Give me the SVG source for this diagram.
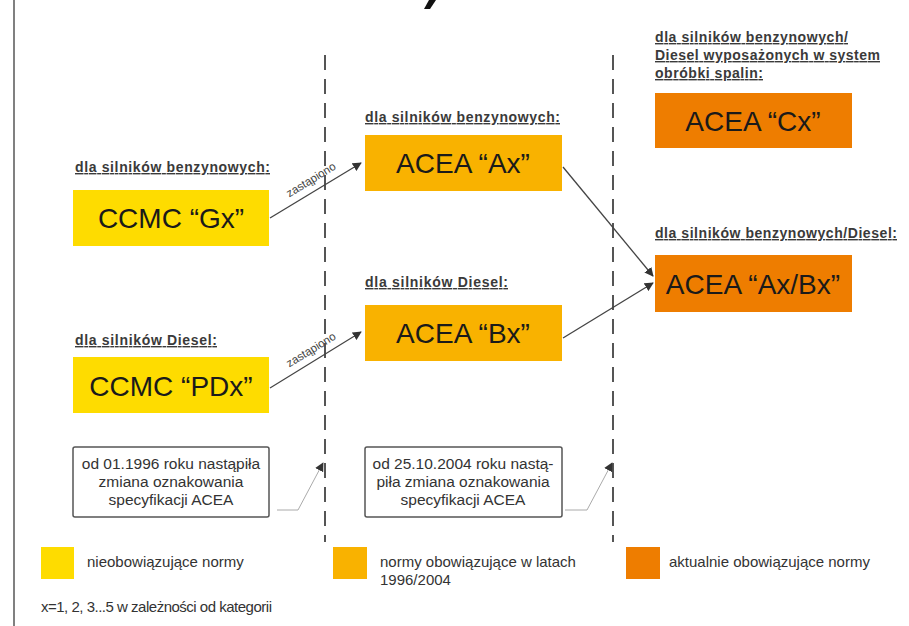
<svg xmlns="http://www.w3.org/2000/svg" width="909" height="626" viewBox="0 0 909 626">
<defs>
<style>
.lbl{font-family:"Liberation Sans",Arial,sans-serif;font-size:14px;font-weight:bold;fill:#3a3a3a;text-decoration:underline;}
.big{font-family:"Liberation Sans",Arial,sans-serif;font-size:28px;fill:#1a1a1a;text-anchor:middle;}
.note{font-family:"Liberation Sans",Arial,sans-serif;font-size:15.5px;fill:#333;text-anchor:middle;}
.leg{font-family:"Liberation Sans",Arial,sans-serif;font-size:15px;fill:#333;}
.zas{font-family:"Liberation Sans",Arial,sans-serif;font-size:11.5px;fill:#444;text-anchor:middle;}
.y1{fill:#FEDC00;}
.y2{fill:#F9B200;}
.o1{fill:#EE7D00;}
.dash{stroke:#555;stroke-width:2;stroke-dasharray:15 9;fill:none;}
.conn{stroke:#444;stroke-width:1.3;fill:none;}
.call{stroke:#aaa;stroke-width:1;fill:none;}
.cbox{fill:#fff;stroke:#555;stroke-width:1.5;}
</style>
<marker id="ah" viewBox="0 0 10 10" refX="9" refY="5" markerWidth="9" markerHeight="9" markerUnits="userSpaceOnUse" orient="auto">
<path d="M0,0 L10,5 L0,10 z" fill="#333"/>
</marker>
</defs>
<rect width="909" height="626" fill="#fff"/>
<line x1="14" y1="0" x2="14" y2="626" stroke="#808080" stroke-width="2"/>
<path d="M424,9 L430,9 L436,0 L429,0 z" fill="#111"/>
<line class="dash" x1="325" y1="55" x2="325" y2="542"/>
<line class="dash" x1="613" y1="55" x2="613" y2="542"/>

<g id="connectors">
<line class="conn" x1="270" y1="218" x2="361" y2="163" marker-end="url(#ah)"/>
<text class="zas" transform="translate(313,183) rotate(-31.5)">zastąpiono</text>
<line class="conn" x1="270" y1="388" x2="361" y2="332" marker-end="url(#ah)"/>
<text class="zas" transform="translate(313,353) rotate(-31.5)">zastąpiono</text>
<line class="conn" x1="563" y1="167" x2="653" y2="276" marker-end="url(#ah)"/>
<line class="conn" x1="563" y1="338" x2="653" y2="283" marker-end="url(#ah)"/>
<polyline class="call" points="277,510 298,510 323,463" marker-end="url(#ah)"/>
<polyline class="call" points="565,510 587,510 612,463" marker-end="url(#ah)"/>
</g>

<g id="ccmc-gx">
<text class="lbl" x="75" y="172" textLength="195">dla silników benzynowych:</text>
<rect class="y1" x="73" y="190" width="196" height="56"/>
<text class="big" x="171" y="228">CCMC “Gx”</text>
</g>
<g id="ccmc-pdx">
<text class="lbl" x="75" y="345" textLength="142">dla silników Diesel:</text>
<rect class="y1" x="73" y="357" width="196" height="56"/>
<text class="big" x="171" y="396">CCMC “PDx”</text>
</g>
<g id="acea-ax">
<text class="lbl" x="365" y="122" textLength="195">dla silników benzynowych:</text>
<rect class="y2" x="365" y="135" width="197" height="56"/>
<text class="big" x="463" y="173">ACEA “Ax”</text>
</g>
<g id="acea-bx">
<text class="lbl" x="365" y="287" textLength="143">dla silników Diesel:</text>
<rect class="y2" x="365" y="305" width="197" height="56"/>
<text class="big" x="463" y="343">ACEA “Bx”</text>
</g>
<g id="acea-cx">
<text class="lbl" x="655" y="42" textLength="193">dla silników benzynowych/</text>
<text class="lbl" x="655" y="60" textLength="225">Diesel wyposażonych w system </text>
<text class="lbl" x="655" y="78" textLength="108">obróbki spalin:</text>
<rect class="o1" x="655" y="93" width="197" height="55"/>
<text class="big" x="753" y="131">ACEA “Cx”</text>
</g>
<g id="acea-axbx">
<text class="lbl" x="655" y="238" textLength="242">dla silników benzynowych/Diesel:</text>
<rect class="o1" x="655" y="255" width="197" height="57"/>
<text class="big" x="753" y="294">ACEA “Ax/Bx”</text>
</g>

<g id="note-1996">
<rect class="cbox" x="73" y="447" width="196" height="70" rx="2"/>
<text class="note" x="171" y="469">od 01.1996 roku nastąpiła</text>
<text class="note" x="171" y="487">zmiana oznakowania</text>
<text class="note" x="171" y="505">specyfikacji ACEA</text>
</g>
<g id="note-2004">
<rect class="cbox" x="365" y="447" width="197" height="70" rx="2"/>
<text class="note" x="463" y="469">od 25.10.2004 roku nastą-</text>
<text class="note" x="463" y="487">piła zmiana oznakowania</text>
<text class="note" x="463" y="505">specyfikacji ACEA</text>
</g>

<g id="legend">
<rect class="y1" x="41" y="547" width="33" height="32"/>
<text class="leg" x="87" y="567">nieobowiązujące normy</text>
<rect class="y2" x="333" y="547" width="34" height="32"/>
<text class="leg" x="380" y="567">normy obowiązujące w latach</text>
<text class="leg" x="380" y="585">1996/2004</text>
<rect class="o1" x="626" y="547" width="34" height="32"/>
<text class="leg" x="669" y="567">aktualnie obowiązujące normy</text>
<text class="leg" x="41" y="612" textLength="231">x=1, 2, 3...5 w zależności od kategorii</text>
</g>
</svg>
